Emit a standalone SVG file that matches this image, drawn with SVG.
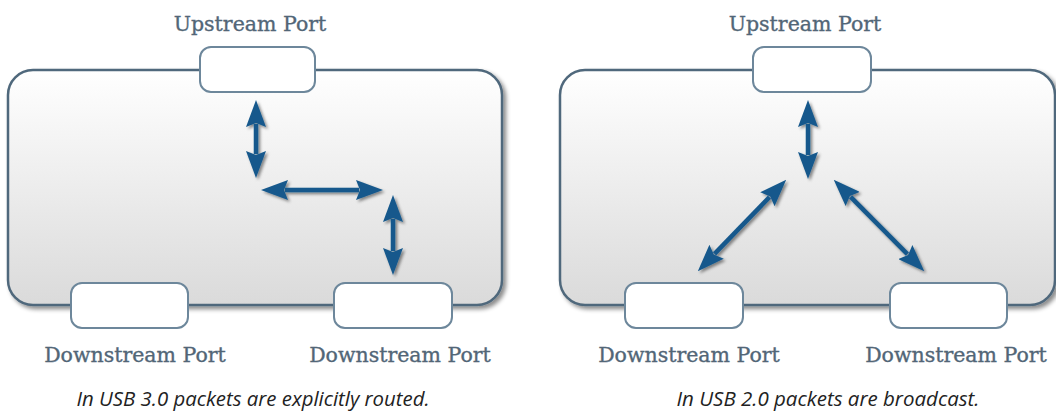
<svg xmlns="http://www.w3.org/2000/svg" width="1056" height="415" viewBox="0 0 1056 415">
  <style>
    .hub { fill: url(#hubFill); stroke: #50687b; stroke-width: 2.5; filter: url(#panelShadow); }
    .port { fill: #ffffff; stroke: #6d879b; stroke-width: 2; }
    .lbl { font-family: "DejaVu Serif", "Liberation Serif", serif; font-size: 20.5px; fill: #526677; stroke: #526677; stroke-width: 0.35; text-anchor: middle; }
    .cap { font-family: "Open Sans", "Liberation Sans", sans-serif; font-style: italic; font-size: 19.5px; fill: #222222; text-anchor: middle; }
    .arrow { fill: none; stroke: #17598c; stroke-width: 4.5; marker-start: url(#head); marker-end: url(#head); }
  </style>
  <defs>
    <linearGradient id="hubFill" x1="0" y1="0" x2="0" y2="1">
      <stop offset="0" stop-color="#ffffff"/>
      <stop offset="1" stop-color="#dadada"/>
    </linearGradient>
    <filter id="panelShadow" x="-5%" y="-5%" width="110%" height="115%">
      <feDropShadow dx="3" dy="3" stdDeviation="2" flood-color="#000" flood-opacity="0.45"/>
    </filter>
    <filter id="arrowShadow" x="-20%" y="-20%" width="140%" height="140%">
      <feDropShadow dx="2" dy="2" stdDeviation="1.5" flood-color="#000" flood-opacity="0.45"/>
    </filter>
    <marker id="head" markerUnits="userSpaceOnUse" viewBox="0 0 27 20" markerWidth="27" markerHeight="20" refX="3" refY="10" orient="auto-start-reverse">
      <path d="M0,0 L27,10 L0,20 L4,10 z" fill="#17598c"/>
    </marker>
  </defs>

  <!-- Left hub: USB 3.0 -->
  <g id="hub-usb3">
    <rect class="hub" x="8" y="70" width="494" height="235" rx="25"/>
  </g>
  <g id="usb3-upstream">
    <rect class="port" x="200" y="47" width="115" height="45" rx="11"/>
    <text class="lbl" x="250" y="31">Upstream Port</text>
  </g>
  <g id="usb3-downstream-1">
    <rect class="port" x="71" y="283" width="117" height="45" rx="11"/>
    <text class="lbl" x="135" y="362">Downstream Port</text>
  </g>
  <g id="usb3-downstream-2">
    <rect class="port" x="334" y="283" width="118" height="45" rx="11"/>
    <text class="lbl" x="400" y="362">Downstream Port</text>
  </g>
  <text class="cap" x="253" y="406" textLength="353" lengthAdjust="spacingAndGlyphs">In USB 3.0 packets are explicitly routed.</text>

  <!-- Right hub: USB 2.0 -->
  <g id="hub-usb2">
    <rect class="hub" x="560" y="70" width="495" height="235" rx="25"/>
  </g>
  <g id="usb2-upstream">
    <rect class="port" x="753" y="47" width="118" height="45" rx="11"/>
    <text class="lbl" x="805" y="31">Upstream Port</text>
  </g>
  <g id="usb2-downstream-1">
    <rect class="port" x="625" y="283" width="118" height="45" rx="11"/>
    <text class="lbl" x="689" y="362">Downstream Port</text>
  </g>
  <g id="usb2-downstream-2">
    <rect class="port" x="890" y="283" width="117" height="45" rx="11"/>
    <text class="lbl" x="956" y="362">Downstream Port</text>
  </g>
  <text class="cap" x="828" y="406" textLength="303" lengthAdjust="spacingAndGlyphs">In USB 2.0 packets are broadcast.</text>

  <!-- Connectors -->
  <g id="connectors" filter="url(#arrowShadow)">
    <path class="arrow" d="M256,124 L256,154"/>
    <path class="arrow" d="M285,190 L359,190"/>
    <path class="arrow" d="M393,219 L393,251"/>
    <path class="arrow" d="M808,124 L808,155"/>
    <path class="arrow" d="M714.5,253.9 L769.5,197.1"/>
    <path class="arrow" d="M850.6,196.8 L907.4,254.2"/>
  </g>
</svg>
